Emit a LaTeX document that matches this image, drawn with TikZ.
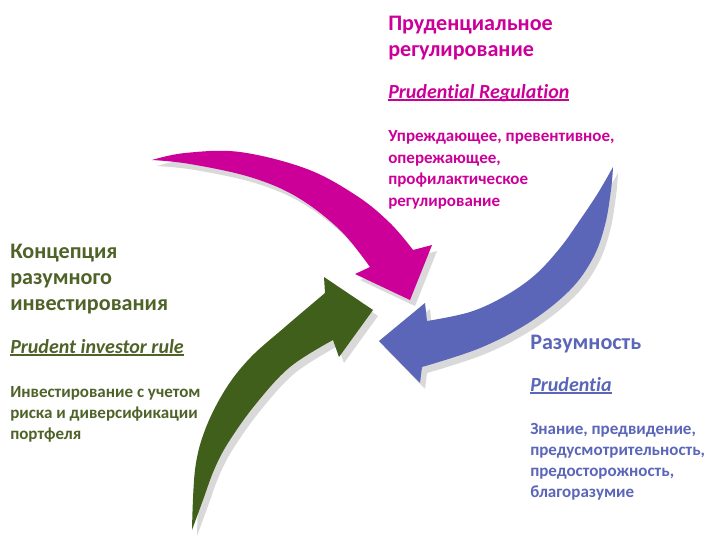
\documentclass[tikz,border=0pt]{standalone}
\usepackage{fontspec}
\setmainfont{Carlito}[Ligatures={NoCommon}]
\definecolor{mag}{HTML}{CC0099}
\definecolor{blu}{HTML}{5B66B8}
\definecolor{grn}{HTML}{3F5F1B}
\definecolor{grntxt}{HTML}{4F6228}
\definecolor{shd}{HTML}{D9D9D9}
\newcommand\myul[1]{\setbox0\hbox{#1}\rlap{\rule[-2pt]{\wd0}{1.1pt}}\box0}
\newcommand\magarrow[1]{\fill[#1] plot[smooth,tension=0.6] coordinates {(152,160) (185,153) (240,152) (307,169) (357,196) (390,223) (413,250)}
  -- (432,245) -- (410,300) -- (355,274) --
  plot[smooth,tension=0.6] coordinates {(370,267) (340,230) (297,197) (250,177) (190,164) (152,160)} -- cycle;}
\newcommand\bluarrow[1]{\fill[#1] plot[smooth,tension=0.6] coordinates {(613,167) (598,193) (580,220) (560,248) (535,275) (505,296) (470,312) (427,321)}
  -- (425,303) -- (379,341) -- (420,383) --
  plot[smooth,tension=0.6] coordinates {(422,367) (480,348) (530,322) (570,290) (593,258) (605,225) (611,190) (613,167)} -- cycle;}
\newcommand\grnarrow[1]{\fill[#1] plot[smooth,tension=0.6] coordinates {(192,530) (195,470) (205,430) (225,390) (250,358) (285,327) (325,293)}
  -- (324,277) -- (373,310) -- (339,357) --
  plot[smooth,tension=0.6] coordinates {(333,340) (290,367) (255,405) (228,443) (214,470) (203,500) (192,530)} -- cycle;}
\tikzset{
  ttl/.style={anchor=base west, inner sep=0pt, font=\fontsize{16.6}{20}\selectfont\bfseries},
  itl/.style={anchor=base west, inner sep=0pt, font=\fontsize{15}{18}\selectfont\bfseries\itshape},
  bdy/.style={anchor=base west, inner sep=0pt, font=\fontsize{12.75}{15}\selectfont\bfseries},
}
\begin{document}
\begin{tikzpicture}[x=0.75pt,y=-0.75pt]
\useasboundingbox[fill=white] (0,0) rectangle (708,536);
% shadows
\magarrow{shd, shift={(5,6)}}
\bluarrow{shd, shift={(5,6)}}
\grnarrow{shd, shift={(5,6)}}
% arrows
\magarrow{mag}
\grnarrow{grn}
\bluarrow{blu}
% magenta text
\begin{scope}[mag]
\node[ttl] (m1) at (388,30) {Пруденциальное};
\node[ttl] (m2) at (388,56) {регулирование};
\node[itl] (m3) at (388,98) {\myul{Prudential Regulation}};
\node[bdy] (m4) at (388,141) {Упреждающее, превентивное,};
\node[bdy] (m5) at (388,163) {опережающее,};
\node[bdy] (m6) at (388,184) {профилактическое};
\node[bdy] (m7) at (388,206) {регулирование};
\end{scope}
% green text
\begin{scope}[grntxt]
\node[ttl] (g1) at (10,258) {Концепция};
\node[ttl] (g2) at (10,284) {разумного};
\node[ttl] (g3) at (10,310) {инвестирования};
\node[itl] (g4) at (10,353) {\myul{Prudent investor rule}};
\node[bdy] (g5) at (10,397) {Инвестирование с учетом};
\node[bdy] (g6) at (10,418) {риска и диверсификации};
\node[bdy] (g7) at (10,439) {портфеля};
\end{scope}
% blue text
\begin{scope}[blu]
\node[ttl] (b1) at (530,349) {Разумность};
\node[itl] (b2) at (530,391) {\myul{Prudentia}};
\node[bdy] (b3) at (530,434) {Знание, предвидение,};
\node[bdy] (b4) at (530,455) {предусмотрительность,};
\node[bdy] (b5) at (530,476) {предосторожность,};
\node[bdy] (b6) at (530,497) {благоразумие};
\end{scope}
\end{tikzpicture}
\end{document}
